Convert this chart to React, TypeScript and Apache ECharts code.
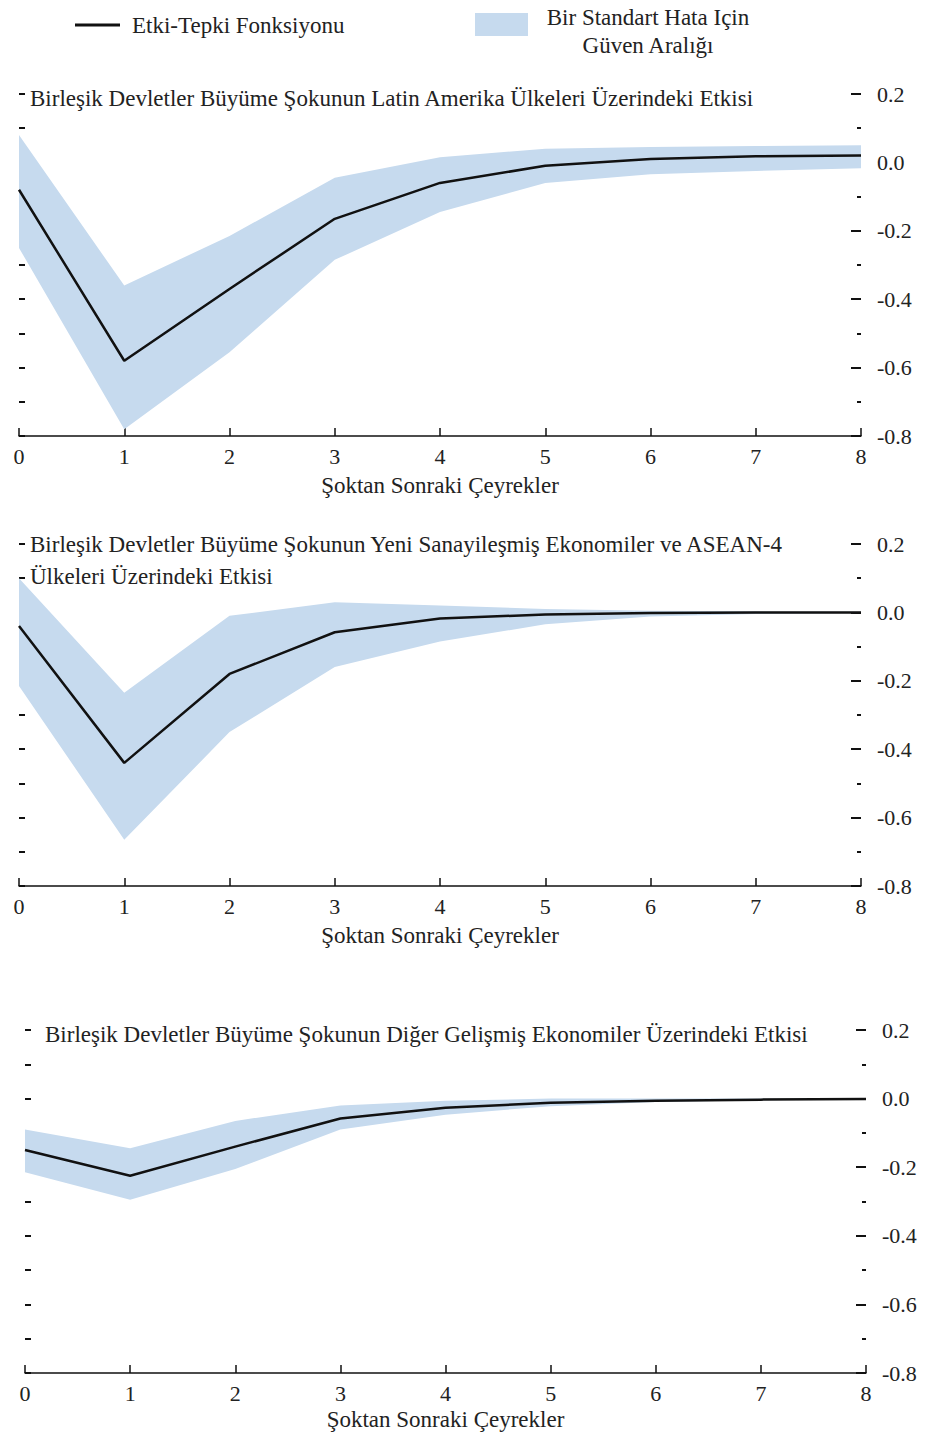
import React, { useEffect, useRef } from "react";
import * as echarts from "echarts";

const quarters = ["0", "1", "2", "3", "4", "5", "6", "7", "8"];

const titles = [
  "Birleşik Devletler Büyüme Şokunun Latin Amerika Ülkeleri Üzerindeki Etkisi",
  "Birleşik Devletler Büyüme Şokunun Yeni Sanayileşmiş Ekonomiler ve ASEAN-4\nÜlkeleri Üzerindeki Etkisi",
  "Birleşik Devletler Büyüme Şokunun Diğer Gelişmiş Ekonomiler Üzerindeki Etkisi",
];

const xAxisName = "Şoktan Sonraki Çeyrekler";
const legendLine = "Etki-Tepki Fonksiyonu";
const legendBand = "Bir Standart Hata Için\nGüven Aralığı";

// Panel 1: Latin America
const irf1 = [-0.08, -0.58, -0.37, -0.165, -0.06, -0.01, 0.01, 0.018, 0.02];
const up1 = [0.08, -0.36, -0.215, -0.045, 0.015, 0.04, 0.045, 0.048, 0.05];
const lo1 = [-0.25, -0.78, -0.555, -0.285, -0.145, -0.06, -0.035, -0.025, -0.017];

// Panel 2: NIEs and ASEAN-4
const irf2 = [-0.04, -0.44, -0.18, -0.058, -0.018, -0.006, -0.002, 0.0, 0.0];
const up2 = [0.1, -0.235, -0.01, 0.03, 0.02, 0.01, 0.005, 0.003, 0.002];
const lo2 = [-0.215, -0.665, -0.35, -0.16, -0.085, -0.035, -0.012, -0.005, -0.002];

// Panel 3: Other advanced economies
const irf3 = [-0.15, -0.225, -0.14, -0.058, -0.027, -0.012, -0.006, -0.003, -0.001];
const up3 = [-0.09, -0.145, -0.065, -0.02, -0.006, 0.0, 0.0, 0.0, 0.0];
const lo3 = [-0.215, -0.295, -0.205, -0.09, -0.047, -0.022, -0.01, -0.005, -0.002];

const panels = [
  { irf: irf1, up: up1, lo: lo1 },
  { irf: irf2, up: up2, lo: lo2 },
  { irf: irf3, up: up3, lo: lo3 },
];

const FONT = "'Liberation Serif', 'DejaVu Serif', serif";
const TXT = "#222";
const BAND = "#c6daee";

const layout = [
  { left: 19, top: 94, width: 842, height: 342, titleLeft: 30, titleTop: 82, nameGap: 38 },
  { left: 19, top: 544, width: 842, height: 342, titleLeft: 30, titleTop: 528, nameGap: 38 },
  { left: 25, top: 1030, width: 841, height: 343, titleLeft: 45, titleTop: 1018, nameGap: 35 },
];

function fmt(v: number) {
  if (Math.abs(v) < 1e-9) return "0.0";
  return v.toFixed(1);
}

export default function App() {
  const ref = useRef<HTMLDivElement>(null);
  useEffect(() => {
    if (!ref.current) return;
    const chart = echarts.init(ref.current, null, { renderer: "svg" });

    const grid: any[] = [];
    const xAxis: any[] = [];
    const yAxis: any[] = [];
    const series: any[] = [];
    const title: any[] = [];

    panels.forEach((p, i) => {
      const L = layout[i];
      grid.push({ left: L.left, top: L.top, width: L.width, height: L.height, containLabel: false });
      title.push({
        text: titles[i],
        left: L.titleLeft,
        top: L.titleTop,
        padding: 0,
        textStyle: { fontFamily: FONT, fontSize: 23, fontWeight: "normal", color: TXT, lineHeight: 32 },
      });
      xAxis.push({
        type: "category",
        gridIndex: i,
        data: quarters,
        boundaryGap: false,
        name: xAxisName,
        nameLocation: "middle",
        nameGap: L.nameGap,
        nameTextStyle: { fontFamily: FONT, fontSize: 23, color: TXT },
        axisLine: { show: true, onZero: false, lineStyle: { color: "#111", width: 1.5 } },
        axisTick: { show: true, inside: true, length: 8, alignWithLabel: true, lineStyle: { color: "#111", width: 1.5 } },
        axisLabel: { fontFamily: FONT, fontSize: 22, color: TXT, margin: 9 },
        splitLine: { show: false },
      });
      // right axis with labels
      yAxis.push({
        type: "value",
        gridIndex: i,
        position: "right",
        min: -0.8,
        max: 0.2,
        interval: 0.2,
        axisLine: { show: false },
        axisTick: { show: true, inside: true, length: 10, lineStyle: { color: "#111", width: 2 } },
        minorTick: { show: true, splitNumber: 2, length: 4, lineStyle: { color: "#111", width: 2 } },
        axisLabel: { fontFamily: FONT, fontSize: 22, color: TXT, margin: 16, formatter: fmt },
        splitLine: { show: false },
        minorSplitLine: { show: false },
      });
      // left axis: ticks only
      yAxis.push({
        type: "value",
        gridIndex: i,
        position: "left",
        min: -0.8,
        max: 0.2,
        interval: 0.1,
        axisLine: { show: false },
        axisTick: { show: true, inside: true, length: 6, lineStyle: { color: "#111", width: 2 } },
        axisLabel: { show: false },
        splitLine: { show: false },
      });
      const yi = i * 2;
      const diff = p.up.map((u, k) => +(u - p.lo[k]).toFixed(4));
      series.push({
        type: "line",
        xAxisIndex: i,
        yAxisIndex: yi,
        data: p.lo,
        stack: "band" + i,
        stackStrategy: "all",
        symbol: "none",
        lineStyle: { opacity: 0 },
        silent: true,
      });
      series.push({
        type: "line",
        xAxisIndex: i,
        yAxisIndex: yi,
        data: diff,
        stack: "band" + i,
        stackStrategy: "all",
        symbol: "none",
        lineStyle: { opacity: 0 },
        areaStyle: { color: BAND, opacity: 1 },
        silent: true,
      });
      series.push({
        type: "line",
        xAxisIndex: i,
        yAxisIndex: yi,
        data: p.irf,
        symbol: "none",
        lineStyle: { color: "#111", width: 2.5 },
        z: 5,
      });
    });

    chart.setOption({
      animation: false,
      backgroundColor: "#fff",
      title,
      grid,
      xAxis,
      yAxis,
      series,
      graphic: [
        { type: "line", shape: { x1: 75, y1: 25, x2: 120, y2: 25 }, style: { stroke: "#111", lineWidth: 3 } },
        {
          type: "text",
          x: 132,
          y: 25,
          style: { text: legendLine, fontFamily: FONT, fontSize: 23, fill: TXT, verticalAlign: "middle", align: "left" },
        },
        { type: "rect", shape: { x: 475, y: 13, width: 53, height: 23 }, style: { fill: BAND } },
        {
          type: "text",
          x: 648,
          y: 31,
          style: {
            text: legendBand,
            fontFamily: FONT,
            fontSize: 23,
            fill: TXT,
            align: "center",
            verticalAlign: "middle",
            lineHeight: 28,
          },
        },
      ],
    });
    return () => chart.dispose();
  }, []);
  return <div ref={ref} style={{ position: "absolute", left: 0, top: 0, width: 926, height: 1439 }} />;
}
